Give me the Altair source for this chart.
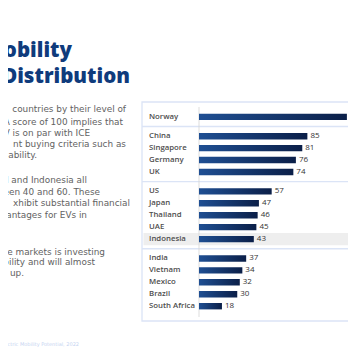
import altair as alt
import pandas as pd

# ---------------- data ----------------
countries = ["Norway", "China", "Singapore", "Germany", "UK",
             "US", "Japan", "Thailand", "UAE", "Indonesia",
             "India", "Vietnam", "Mexico", "Brazil", "South Africa"]
scores = [116, 85, 81, 76, 74, 57, 47, 46, 45, 43, 37, 34, 32, 30, 18]
groups = [0, 1, 1, 1, 1, 2, 2, 2, 2, 2, 3, 3, 3, 3, 3]
highlighted = ["Indonesia"]

title_lines = ["Mobility", "s Distribution"]
para_lines = [
    " countries by their level of",
    "A score of 100 implies that",
    "V is on par with ICE",
    "nt buying criteria such as",
    "ability.",
    "d and Indonesia all",
    "een 40 and 60. These",
    "xhibit substantial financial",
    "vantages for EVs in",
    "e markets is investing",
    "bility and will almost",
    " up.",
]
footer = "Electric Mobility Potential, 2022"

# ---------------- layout ----------------
W, H = 340, 340
GAP = 0.62                 # extra slot space between groups
ROW_PX = 12.3
ROW0_PX = 107
ZERO_PX = 191
UNIT_PX = 1.275

slots = [i + GAP * g for i, g in enumerate(groups)]
df = pd.DataFrame({"country": countries, "score": scores,
                   "group": groups, "slot": slots})

xscale = alt.Scale(domain=[-ZERO_PX / UNIT_PX, (W - ZERO_PX) / UNIT_PX],
                   range=[0, W], nice=False, zero=False)
yscale = alt.Scale(domain=[-ROW0_PX / ROW_PX, (H - ROW0_PX) / ROW_PX],
                   range=[0, H], nice=False, zero=False)

seps = []
for g in range(max(groups)):
    last = max(s for s, gg in zip(slots, groups) if gg == g)
    first = min(s for s, gg in zip(slots, groups) if gg == g + 1)
    seps.append((last + first) / 2)
sep_df = pd.DataFrame({"s": seps})

one = pd.DataFrame({"a": [0]})

box = alt.Chart(one).mark_rect(fill="white", stroke="#dbe4f6", strokeWidth=1.3).encode(
    x=alt.value(134), x2=alt.value(360), y=alt.value(94), y2=alt.value(313))

hl = alt.Chart(df).transform_filter(
    alt.FieldOneOfPredicate(field="country", oneOf=highlighted)
).transform_calculate(
    lo="datum.slot - 0.52", hi="datum.slot + 0.52"
).mark_rect(fill="#eeeeee").encode(
    x=alt.value(135.5), x2=alt.value(360),
    y=alt.Y("lo:Q", scale=yscale, axis=None), y2="hi:Q")

sep = alt.Chart(sep_df).mark_rule(color="#dbe4f6", strokeWidth=1.3).encode(
    x=alt.value(134), x2=alt.value(360),
    y=alt.Y("s:Q", scale=yscale, axis=None))

axis_line = alt.Chart(one).mark_rule(color="#d4d4d4", strokeWidth=0.8).encode(
    x=alt.X("a:Q", scale=xscale, axis=None), y=alt.value(99), y2=alt.value(309))

grad = alt.Gradient(gradient="linear",
                    stops=[alt.GradientStop(offset=0, color="#1f4f93"),
                           alt.GradientStop(offset=1, color="#0b1f48")],
                    x1=0, x2=1, y1=0, y2=0)

bars = alt.Chart(df).mark_bar(orient="horizontal", size=6.4, color=grad).encode(
    x=alt.X("score:Q", scale=xscale, axis=None, stack=None),
    x2=alt.datum(0),
    y=alt.Y("slot:Q", scale=yscale, axis=None))

values = alt.Chart(df).mark_text(align="left", baseline="middle", dx=3,
                                 fontSize=8, font="Open Sans", fontWeight=500,
                                 color="#333333").encode(
    x=alt.X("score:Q", scale=xscale, axis=None),
    y=alt.Y("slot:Q", scale=yscale, axis=None),
    text="score:Q")

labels = alt.Chart(df).mark_text(align="left", baseline="middle",
                                 fontSize=7.8, font="Open Sans", fontWeight=600,
                                 color="#4d4d4d").encode(
    x=alt.value(141),
    y=alt.Y("slot:Q", scale=yscale, axis=None),
    text="country:N")

title_df = pd.DataFrame({"t": title_lines, "x": [64, 122], "y": [49.3, 75.3]})
title = alt.Chart(title_df).mark_text(align="right", baseline="alphabetic",
                                      fontSize=20.5, font="Open Sans", fontWeight=800,
                                      color="#0f3b7c").encode(
    x=alt.X("x:Q", scale=None), y=alt.Y("y:Q", scale=None), text="t:N")

para_x = [118, 115, 82, 118, 29, 79, 92, 122, 79, 97, 87, 16]
para_y = [101.3, 113.7, 125.3, 136.3, 147, 172, 183.7, 195.3, 207, 243.7, 254.3, 265]
para_df = pd.DataFrame({"t": para_lines, "x": para_x, "y": para_y})
para = alt.Chart(para_df).mark_text(align="right", baseline="middle",
                                    fontSize=8.9, font="DejaVu Sans",
                                    color="#626262").encode(
    x=alt.X("x:Q", scale=None), y=alt.Y("y:Q", scale=None), text="t:N")

foot = alt.Chart(pd.DataFrame({"t": [footer]})).mark_text(
    align="right", baseline="middle", fontSize=5.0, font="DejaVu Sans",
    color="#c6d4f1").encode(x=alt.value(71), y=alt.value(336), text="t:N")

chart = alt.layer(box, hl, sep, axis_line, bars, values, labels,
                  title, para, foot).properties(
    width=W, height=H, padding=0,
    autosize=alt.AutoSizeParams(type="none"),
    background="white"
).configure_view(stroke=None)

chart.save("out.html", embed_options={"renderer": "svg", "actions": False})
